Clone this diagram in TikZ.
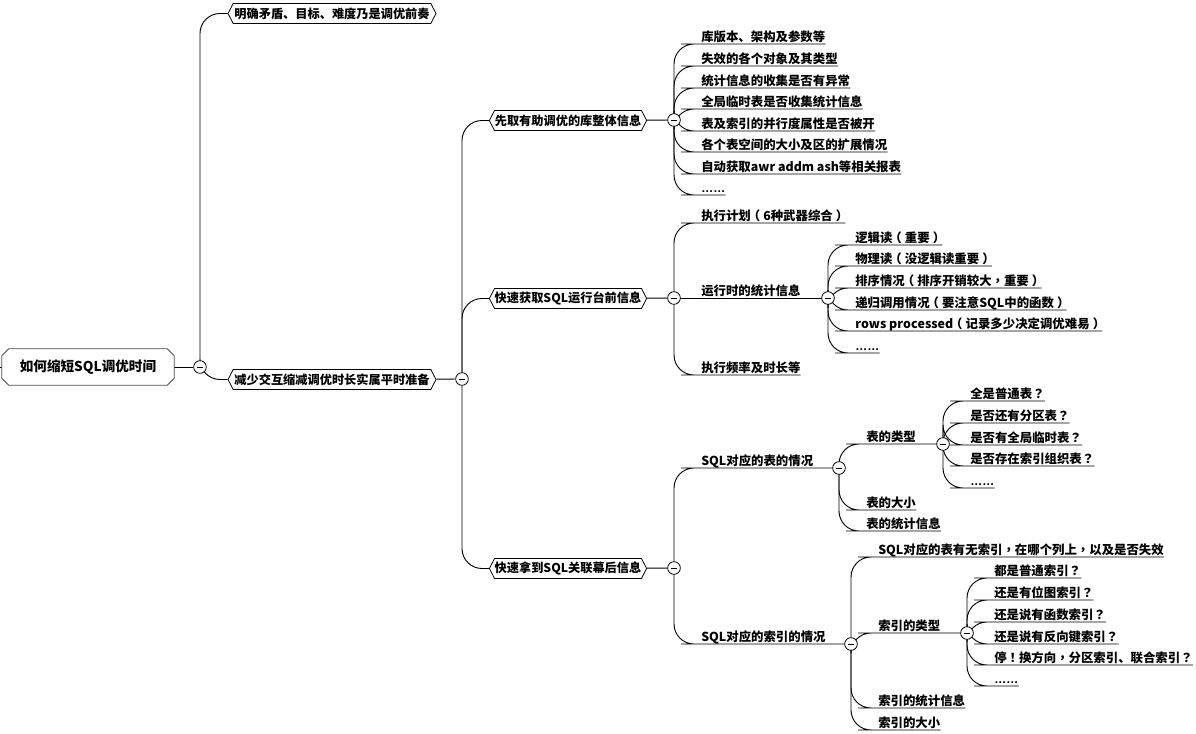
\documentclass[tikz,border=0pt]{standalone}
\usepackage{fontspec}
\setmainfont[Kerning=Off]{Noto Sans CJK SC}
\newfontfamily\dotfont{Liberation Sans}
\newfontfamily\markfont[Kerning=Off]{Noto Sans CJK TC}
\newcommand{\zhmark}[1]{{\markfont #1}}
\newcommand{\zhopen}{\kern-.25em（\kern.25em}
\newcommand{\zhclose}{\kern.25em）\kern-.25em}
\usetikzlibrary{shapes.symbols, backgrounds}
\tikzset{
  rootbox/.style={fill=white, minimum width=129pt, minimum height=27pt, inner sep=0pt, font=\fontsize{10.2}{12}\selectfont\bfseries},
  rootline/.style={draw=black!70, line width=0.7pt},
  topic/.style={signal, signal to=east and west, signal pointer angle=125, draw, line width=0.6pt, fill=white, minimum width=156pt, minimum height=15pt, inner xsep=0pt, inner ysep=1pt, font=\fontsize{9.15}{11}\selectfont\bfseries},
  subtopic/.style={topic, minimum width=118pt},
  fold/.style={circle, draw, line width=0.6pt, fill=white, minimum size=9.5pt, inner sep=0pt, path picture={\draw ([xshift=2.4pt]path picture bounding box.west) -- ([xshift=-2.4pt]path picture bounding box.east);}},
  leaf/.style={anchor=south west, inner xsep=0pt, inner ysep=0pt, text height=8.5pt, text depth=2pt, font=\fontsize{9.3}{11}\selectfont\bfseries},
  dots/.style={leaf, font=\dotfont\fontsize{9}{11}\selectfont\bfseries},
  branch/.style={line width=0.7pt, rounded corners=15pt},
}
\begin{document}
\begin{tikzpicture}[x=0.75pt, y=-0.75pt]
\useasboundingbox (0,0) rectangle (1196,734);
\coordinate (stub) at (0,367);
\node[rootbox] (root) at (88,367) {如何缩短SQL调优时间};
\draw[rootline] ([xshift=5.25pt]root.north west) -- ([xshift=-5.25pt]root.north east) -- ([yshift=-5.25pt]root.north east) -- ([yshift=5.25pt]root.south east) -- ([xshift=-5.25pt]root.south east) -- ([xshift=5.25pt]root.south west) -- ([yshift=5.25pt]root.south west) -- ([yshift=-5.25pt]root.north west) -- cycle;
\node[fold] (f0) at (200,367) {};
\node[topic] (clear) at (332,13.5) {明确矛盾、目标、难度乃是调优前奏};
\node[topic] (prep) at (332,379.5) {减少交互缩减调优时长实属平时准备};
\node[fold] (f1) at (462,379) {};
\node[subtopic] (whole) at (568,120.5) {先取有助调优的库整体信息};
\node[subtopic] (front) at (568,298.5) {快速获取SQL运行台前信息};
\node[subtopic] (back) at (568,568.5) {快速拿到SQL关联幕后信息};
\node[fold] (f2) at (674,120) {};
\node[fold] (f3) at (674,298) {};
\node[fold] (f4) at (674,568) {};
\node[leaf] (w1) at (701,44) {库版本、架构及参数等};
\node[leaf] (w2) at (701,66) {失效的各个对象及其类型};
\node[leaf] (w3) at (701,88) {统计信息的收集是否有异常};
\node[leaf] (w4) at (701,109) {全局临时表是否收集统计信息};
\node[leaf] (w5) at (701,131) {表及索引的并行度属性是否被开};
\node[leaf] (w6) at (701,152) {各个表空间的大小及区的扩展情况};
\node[leaf] (w7) at (701,174) {自动获取awr addm ash等相关报表};
\node[dots] (w8) at (701,195) {……};
\node[leaf] (p1) at (701,223) {执行计划\zhopen 6种武器综合\zhclose};
\node[leaf] (p2) at (701,298) {运行时的统计信息};
\node[leaf] (p3) at (701,375) {执行频率及时长等};
\node[fold] (f5) at (828,298) {};
\node[leaf] (s1) at (855,245) {逻辑读\zhopen 重要\zhclose};
\node[leaf] (s2) at (855,266) {物理读\zhopen 没逻辑读重要\zhclose};
\node[leaf] (s3) at (855,288) {排序情况\zhopen 排序开销较大\zhmark{，}重要\zhclose};
\node[leaf] (s4) at (855,310) {递归调用情况\zhopen 要注意SQL中的函数\zhclose};
\node[leaf] (s5) at (855,331) {rows processed\zhopen 记录多少决定调优难易\zhclose};
\node[dots] (s6) at (855,353) {……};
\node[leaf] (t0) at (701,468) {SQL对应的表的情况};
\node[leaf] (i0) at (701,644) {SQL对应的索引的情况};
\node[fold] (f6) at (839,468) {};
\node[fold] (f7) at (851,644) {};
\node[leaf] (t1) at (866,444) {表的类型};
\node[leaf] (t2) at (866,510) {表的大小};
\node[leaf] (t3) at (866,531) {表的统计信息};
\node[fold] (f8) at (943,444) {};
\node[leaf] (k1) at (970,401) {全是普通表\zhmark{？}};
\node[leaf] (k2) at (970,423) {是否还有分区表\zhmark{？}};
\node[leaf] (k3) at (970,445) {是否有全局临时表\zhmark{？}};
\node[leaf] (k4) at (970,466) {是否存在索引组织表\zhmark{？}};
\node[dots] (k5) at (970,488) {……};
\node[leaf] (i1) at (878,557) {SQL对应的表有无索引\zhmark{，}在哪个列上\zhmark{，}以及是否失效};
\node[leaf] (i2) at (878,633) {索引的类型};
\node[leaf] (i3) at (878,708) {索引的统计信息};
\node[leaf] (i4) at (878,730) {索引的大小};
\node[fold] (f9) at (967,633) {};
\node[leaf] (m1) at (994,578) {都是普通索引\zhmark{？}};
\node[leaf] (m2) at (994,600) {还是有位图索引\zhmark{？}};
\node[leaf] (m3) at (994,622) {还是说有函数索引\zhmark{？}};
\node[leaf] (m4) at (994,644) {还是说有反向键索引\zhmark{？}};
\node[leaf] (m5) at (994,665) {停\zhmark{！}换方向\zhmark{，}分区索引、联合索引\zhmark{？}};
\node[dots] (m6) at (994,686) {……};
\begin{scope}[on background layer]
  \draw[branch] (stub) -- (root);
  \draw[branch] (root) -- (f0);
  \draw[branch] (f0.center) |- (clear.west);
  \draw[branch] (f0.center) |- (prep.west);
  \draw[branch] (prep) -- (f1);
  \draw[branch] (f1.center) |- (whole.west);
  \draw[branch] (f1.center) |- (front.west);
  \draw[branch] (f1.center) |- (back.west);
  \draw[branch] (whole) -- (f2);
  \draw[branch] (front) -- (f3);
  \draw[branch] (back) -- (f4);
  \draw[branch] (f2.center) |- (w1.south west) -- (w1.south east);
  \draw[branch] (f2.center) |- (w2.south west) -- (w2.south east);
  \draw[branch] (f2.center) |- (w3.south west) -- (w3.south east);
  \draw[branch] (f2.center) |- (w4.south west) -- (w4.south east);
  \draw[branch] (f2.center) |- (w5.south west) -- (w5.south east);
  \draw[branch] (f2.center) |- (w6.south west) -- (w6.south east);
  \draw[branch] (f2.center) |- (w7.south west) -- (w7.south east);
  \draw[branch] (f2.center) |- (w8.south west) -- (w8.south east);
  \draw[branch] (f3.center) |- (p1.south west) -- (p1.south east);
  \draw[branch] (f3.center) -- (f5.center);
  \draw[branch] (f3.center) |- (p3.south west) -- (p3.south east);
  \draw[branch] (f5.center) |- (s1.south west) -- (s1.south east);
  \draw[branch] (f5.center) |- (s2.south west) -- (s2.south east);
  \draw[branch] (f5.center) |- (s3.south west) -- (s3.south east);
  \draw[branch] (f5.center) |- (s4.south west) -- (s4.south east);
  \draw[branch] (f5.center) |- (s5.south west) -- (s5.south east);
  \draw[branch] (f5.center) |- (s6.south west) -- (s6.south east);
  \draw[branch] (f4.center) |- (t0.south west) -- (f6.center);
  \draw[branch] (f4.center) |- (i0.south west) -- (f7.center);
  \draw[branch] (f6.center) |- (t1.south west) -- (f8.center);
  \draw[branch] (f6.center) |- (t2.south west) -- (t2.south east);
  \draw[branch] (f6.center) |- (t3.south west) -- (t3.south east);
  \draw[branch] (f8.center) |- (k1.south west) -- (k1.south east);
  \draw[branch] (f8.center) |- (k2.south west) -- (k2.south east);
  \draw[branch] (f8.center) |- (k3.south west) -- (k3.south east);
  \draw[branch] (f8.center) |- (k4.south west) -- (k4.south east);
  \draw[branch] (f8.center) |- (k5.south west) -- (k5.south east);
  \draw[branch] (f7.center) |- (i1.south west) -- (i1.south east);
  \draw[branch] (f7.center) |- (i2.south west) -- (f9.center);
  \draw[branch] (f7.center) |- (i3.south west) -- (i3.south east);
  \draw[branch] (f7.center) |- (i4.south west) -- (i4.south east);
  \draw[branch] (f9.center) |- (m1.south west) -- (m1.south east);
  \draw[branch] (f9.center) |- (m2.south west) -- (m2.south east);
  \draw[branch] (f9.center) |- (m3.south west) -- (m3.south east);
  \draw[branch] (f9.center) |- (m4.south west) -- (m4.south east);
  \draw[branch] (f9.center) |- (m5.south west) -- (m5.south east);
  \draw[branch] (f9.center) |- (m6.south west) -- (m6.south east);
\end{scope}
\end{tikzpicture}
\end{document}
